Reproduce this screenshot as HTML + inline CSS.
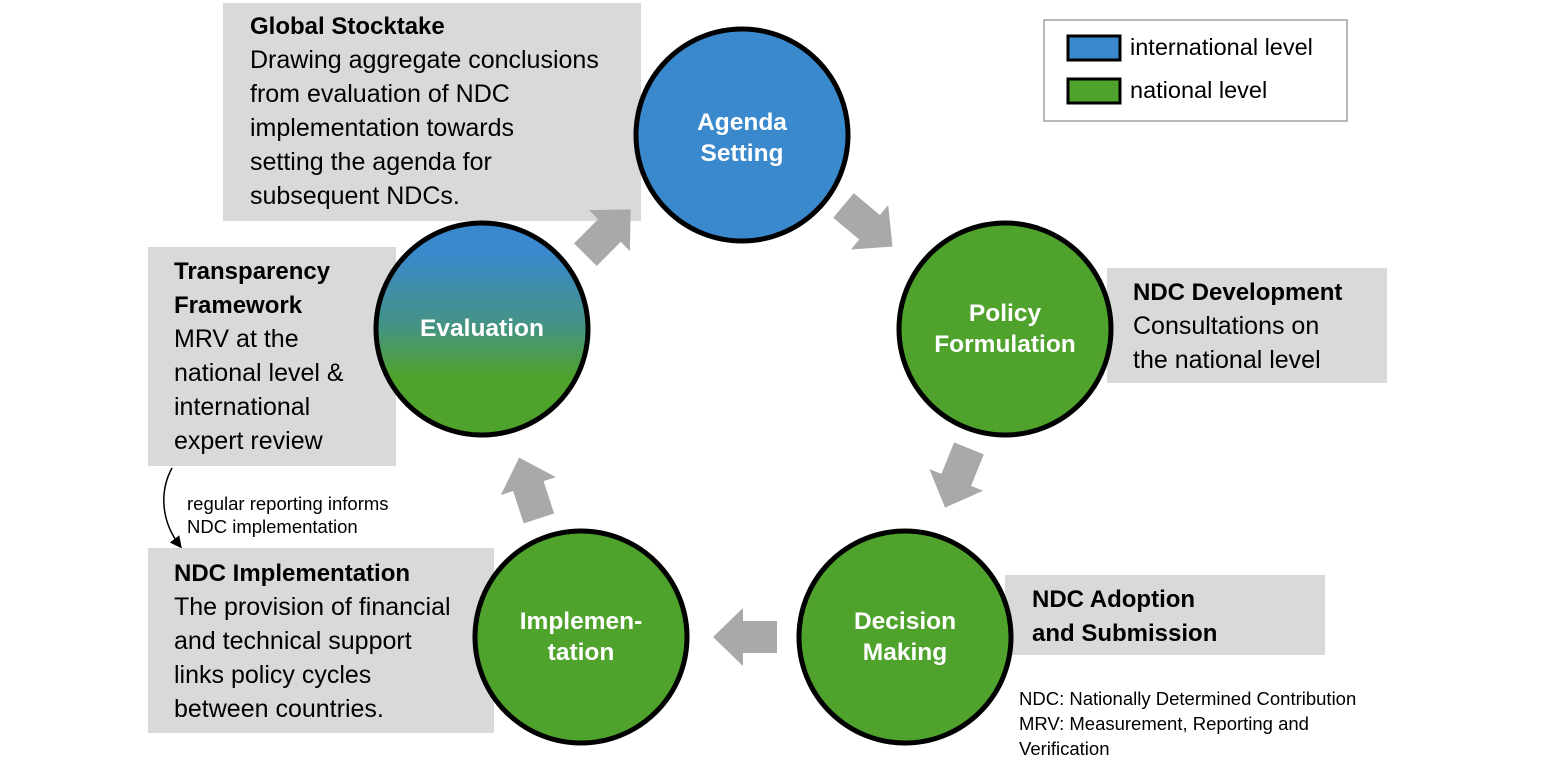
<!DOCTYPE html>
<html><head><meta charset="utf-8"><style>
html,body{margin:0;padding:0;background:#fff;}
svg{display:block;font-family:"Liberation Sans",sans-serif;}
.t{font-size:25px;fill:#000;}
.b{font-weight:bold;font-size:24px;}
.c{font-size:24.5px;font-weight:bold;fill:#fff;text-anchor:middle;}
.s{font-size:18.5px;fill:#000;}
</style></head><body>
<svg width="1545" height="775" viewBox="0 0 1545 775">
<defs>
<linearGradient id="g" x1="0" y1="0" x2="0" y2="1">
<stop offset="0.15" stop-color="#3a89cc"/>
<stop offset="0.5" stop-color="#459480"/>
<stop offset="0.72" stop-color="#4fa22c"/>
</linearGradient>
<marker id="m" markerWidth="8" markerHeight="8" refX="6" refY="4" orient="auto"><path d="M0,0 L8,4 L0,8 z" fill="#000"/></marker>
<polygon id="ar" points="-32,-16 2,-16 2,-29 32,0 2,29 2,16 -32,16" fill="#a9a9ab"/>
</defs>
<rect x="223" y="3" width="418" height="218" fill="#d9d9d9"/>
<rect x="148" y="247" width="248" height="219" fill="#d9d9d9"/>
<rect x="1107" y="268" width="280" height="115" fill="#d9d9d9"/>
<rect x="1005" y="575" width="320" height="80" fill="#d9d9d9"/>
<rect x="148" y="548" width="346" height="185" fill="#d9d9d9"/>
<rect x="1044" y="20" width="303" height="101" fill="#fff" stroke="#888" stroke-width="1.2"/>
<rect x="1068" y="36" width="52" height="24" fill="#3a89cc" stroke="#000" stroke-width="3"/>
<rect x="1068" y="79" width="52" height="24" fill="#4fa22c" stroke="#000" stroke-width="3"/>
<text class="t" x="1130" y="55" style="font-size:23.5px">international level</text>
<text class="t" x="1130" y="98" style="font-size:23.5px">national level</text>
<text class="t" x="250" y="34"><tspan class="b">Global Stocktake</tspan><tspan x="250" dy="34">Drawing aggregate conclusions</tspan><tspan x="250" dy="34">from evaluation of NDC</tspan><tspan x="250" dy="34">implementation towards</tspan><tspan x="250" dy="34">setting the agenda for</tspan><tspan x="250" dy="34">subsequent NDCs.</tspan></text>
<text class="t" x="174" y="279"><tspan class="b">Transparency</tspan><tspan x="174" dy="34" class="b">Framework</tspan><tspan x="174" dy="34">MRV at the</tspan><tspan x="174" dy="34">national level &amp;</tspan><tspan x="174" dy="34">international</tspan><tspan x="174" dy="34">expert review</tspan></text>
<text class="t" x="1133" y="300"><tspan class="b">NDC Development</tspan><tspan x="1133" dy="34">Consultations on</tspan><tspan x="1133" dy="34">the national level</tspan></text>
<text class="t b" x="1032" y="607">NDC Adoption<tspan x="1032" dy="34">and Submission</tspan></text>
<text class="t" x="174" y="581"><tspan class="b">NDC Implementation</tspan><tspan x="174" dy="34">The provision of financial</tspan><tspan x="174" dy="34">and technical support</tspan><tspan x="174" dy="34">links policy cycles</tspan><tspan x="174" dy="34">between countries.</tspan></text>
<text class="s" x="1019" y="705">NDC: Nationally Determined Contribution<tspan x="1019" dy="25">MRV: Measurement, Reporting and</tspan><tspan x="1019" dy="25">Verification</tspan></text>
<text class="s" x="187" y="510">regular reporting informs<tspan x="187" dy="23">NDC implementation</tspan></text>
<path d="M172,468 C160,490 160,520 180,546" fill="none" stroke="#000" stroke-width="1.5" marker-end="url(#m)"/>
<g stroke="#000" stroke-width="5">
<circle cx="742" cy="135" r="106" fill="#3a89cc"/>
<circle cx="1005" cy="329" r="106" fill="#4fa22c"/>
<circle cx="905" cy="637" r="106" fill="#4fa22c"/>
<circle cx="581" cy="637" r="106" fill="#4fa22c"/>
<circle cx="482" cy="329" r="106" fill="url(#g)"/>
</g>
<text class="c" x="742" y="130">Agenda<tspan x="742" dy="31">Setting</tspan></text>
<text class="c" x="1005" y="321">Policy<tspan x="1005" dy="31">Formulation</tspan></text>
<text class="c" x="905" y="629">Decision<tspan x="905" dy="31">Making</tspan></text>
<text class="c" x="581" y="629">Implemen-<tspan x="581" dy="31">tation</tspan></text>
<text class="c" x="482" y="336">Evaluation</text>
<use href="#ar" transform="translate(608,232) rotate(-45)"/>
<use href="#ar" transform="translate(868,226) rotate(40)"/>
<use href="#ar" transform="translate(957,478) rotate(112)"/>
<use href="#ar" transform="translate(745,637) rotate(180)"/>
<use href="#ar" transform="translate(529,488) rotate(-108)"/>
</svg>
</body></html>
